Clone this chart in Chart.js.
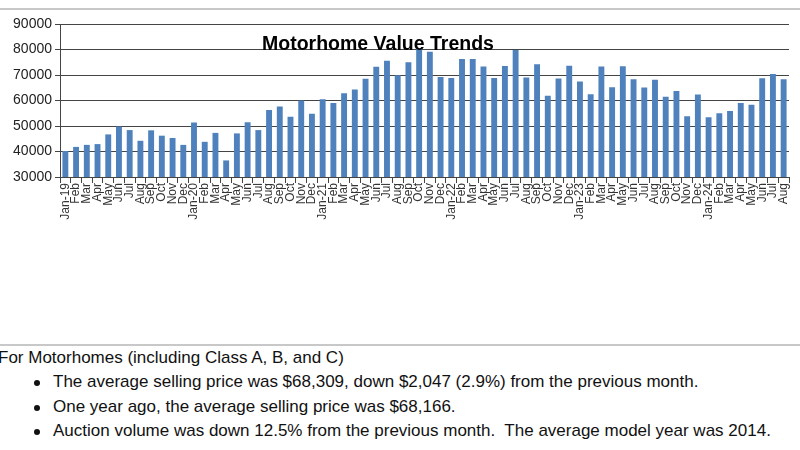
<!DOCTYPE html>
<html>
<head>
<meta charset="utf-8">
<script src="https://cdn.jsdelivr.net/npm/chart.js@4.4.1/dist/chart.umd.min.js"></script>
<style>
  body { margin: 0; background: #fff; width: 800px; height: 450px; overflow: hidden; position: relative; font-family: "Liberation Sans", Arial, sans-serif; }
  .rule { position: absolute; left: 0; width: 800px; height: 2px; background: #c8c8c8; }
  #chartWrap { position: absolute; left: 0; top: 0; width: 800px; height: 240px; }
  #title { position: absolute; left: 0; width: 756px; top: 32px; text-align: center; font: bold 19.5px "Liberation Sans", Arial, sans-serif; color: #000; }
  #notes { position: absolute; left: -2px; top: 345px; font-family: "Liberation Sans", Arial, sans-serif; font-size: 17px; color: #111; }
  #notes p { margin: 0; position: absolute; white-space: nowrap; }
  #notes ul { margin: 0; padding: 0; list-style: none; }
  #notes li { position: absolute; left: 55px; white-space: nowrap; }
  #notes li::before { content: ""; position: absolute; left: -19px; top: 8px; width: 6px; height: 6px; border-radius: 50%; background: #111; }
</style>
</head>
<body>
<div class="rule" style="top:8px"></div>
<div id="chartWrap"><canvas id="motorhomeChart" width="800" height="240"></canvas></div>
<div id="title">Motorhome Value Trends</div>
<div class="rule" style="top:344px"></div>
<div id="notes">
  <p style="top:3px">For Motorhomes (including Class A, B, and C)</p>
  <ul>
    <li style="top:27px">The average selling price was $68,309, down $2,047 (2.9%) from the previous month.</li>
    <li style="top:51.5px">One year ago, the average selling price was $68,166.</li>
    <li style="top:76px">Auction volume was down 12.5% from the previous month.&nbsp; The average model year was 2014.</li>
  </ul>
</div>
<script>
// --- Data ---
const months = [
  'Jan-19','Feb','Mar','Apr','May','Jun','Jul','Aug','Sep','Oct','Nov','Dec',
  'Jan-20','Feb','Mar','Apr','May','Jun','Jul','Aug','Sep','Oct','Nov','Dec',
  'Jan-21','Feb','Mar','Apr','May','Jun','Jul','Aug','Sep','Oct','Nov','Dec',
  'Jan-22','Feb','Mar','Apr','May','Jun','Jul','Aug','Sep','Oct','Nov','Dec',
  'Jan-23','Feb','Mar','Apr','May','Jun','Jul','Aug','Sep','Oct','Nov','Dec',
  'Jan-24','Feb','Mar','Apr','May','Jun','Jul','Aug'
];

const avgPrice = [
  40200, 41800, 42600, 42900, 46700, 49800, 48400, 44200, 48300, 46200, 45300, 42600,
  51400, 43800, 47300, 36500, 47100, 51500, 48400, 56300, 57600, 53600, 60000, 54800,
  60500, 59000, 62800, 64300, 68500, 73200, 75600, 69900, 75000, 80300, 79100, 69200,
  68800, 76300, 76300, 73300, 68800, 73500, 79800, 69000, 74200, 61900, 68600, 73600,
  67500, 62500, 73300, 65200, 73400, 68300, 65100, 68166, 61500, 63700, 53800, 62400,
  53400, 55000, 55900, 59000, 58300, 68700, 70356, 68309
];

const yTicks = [30000, 40000, 50000, 60000, 70000, 80000, 90000];

const axisColor = '#444';

new Chart(document.getElementById('motorhomeChart'), {
  type: 'bar',
  data: {
    labels: months,
    datasets: [{
      data: avgPrice,
      backgroundColor: '#4f81bd',
      categoryPercentage: 1,
      barPercentage: 0.55
    }]
  },
  options: {
    responsive: false,
    animation: false,
    layout: { padding: { top: 24, right: 11, left: 0, bottom: 0 } },
    plugins: { legend: { display: false }, tooltip: { enabled: false }, title: { display: false } },
    scales: {
      x: {
        grid: { drawOnChartArea: false, drawTicks: true, tickLength: 6, color: axisColor, offset: true },
        border: { color: axisColor },
        ticks: {
          autoSkip: false, maxRotation: 90, minRotation: 90, padding: 0,
          color: '#333', font: { family: 'Liberation Sans', size: 12 }
        },
        afterFit: (scale) => { scale.height = 63; }
      },
      y: {
        min: yTicks[0],
        max: yTicks[yTicks.length - 1],
        afterBuildTicks: (scale) => { scale.ticks = yTicks.map(v => ({ value: v })); },
        grid: { color: axisColor, tickLength: 5, lineWidth: 1 },
        border: { color: axisColor },
        ticks: {
          padding: 3, color: '#222', font: { family: 'Liberation Sans', size: 14 },
          callback: (v) => String(v)
        },
        afterFit: (scale) => { scale.width = 60; }
      }
    }
  }
});
</script>
</body>
</html>
